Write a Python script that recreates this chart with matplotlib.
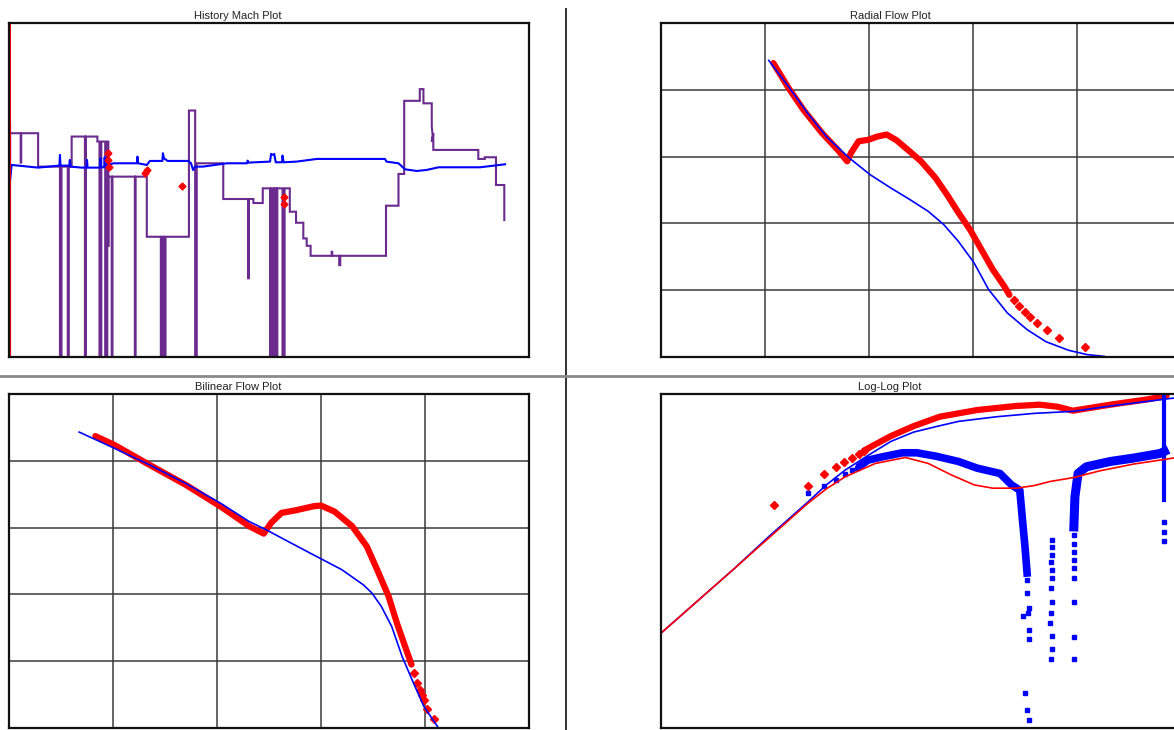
import matplotlib
matplotlib.use("Agg")
import matplotlib.pyplot as plt
from matplotlib.lines import Line2D

plt.rcParams['font.family'] = ['Liberation Sans', 'DejaVu Sans']

# ---------------- data ----------------
titles = ["History Mach Plot", "Radial Flow Plot", "Bilinear Flow Plot", "Log-Log Plot"]

# History match (time %, value %)
hist_edge = [(0.1, 101), (0.1, -1)]
hist_red = [(19.0, 61.0), (19.1, 59.0), (19.2, 57.0), (26.2, 55.2), (26.5, 56.0),
            (33.2, 51.3), (52.9, 48.0), (52.9, 45.8)]
hist_blue = [(0.2, 70.0), (0.2, 53.0), (0.5, 57.5), (5.6, 56.7), (9.7, 57.3), (9.8, 60.5),
             (9.9, 57.3), (11.6, 57.3), (11.7, 59.0), (11.8, 57.0), (14.0, 56.7), (14.9, 56.7),
             (15.0, 59.0), (15.1, 56.7), (17.5, 56.7), (17.6, 59.5), (17.7, 56.8), (18.3, 56.8),
             (18.4, 59.8), (18.5, 57.0), (19.0, 57.5), (20.1, 58.0), (24.6, 58.0), (24.7, 60.0),
             (24.8, 58.0), (26.5, 57.5), (27.1, 58.7), (29.5, 58.7), (29.6, 61.0), (29.8, 59.5),
             (30.5, 58.7), (34.5, 58.7), (35.0, 58.0), (35.4, 56.0), (35.8, 57.0), (37.3, 57.0),
             (41.9, 58.0), (45.8, 58.0), (45.9, 58.8), (46.0, 58.2), (50.2, 58.5), (50.4, 60.8),
             (50.8, 60.5), (51.0, 60.8), (51.3, 58.3), (52.5, 58.3), (52.6, 60.3), (52.8, 58.3),
             (55.3, 58.5), (59.2, 59.3), (72.3, 59.3), (72.6, 58.5), (74.9, 58.0), (76.15, 56.2),
             (78.4, 55.7), (80.3, 56.0), (82.6, 56.8), (90.6, 56.8), (95.4, 57.7)]
hist_purple = [(0.2, -5), (0.2, 67.0), (2.25, 67.0), (2.25, 58.2), (2.35, 58.2), (2.35, 67.0),
               (5.6, 67.0), (5.6, 57.0), (9.8, 57.0), (9.8, -5), (10.1, -5), (10.1, 57.0),
               (11.3, 57.0), (11.3, -5), (11.5, -5), (11.5, 57.0), (12.05, 57.0), (12.05, 66.0),
               (14.6, 66.0), (14.6, -5), (14.8, -5), (14.8, 66.0), (17.0, 66.0), (17.0, 64.5),
               (17.4, 64.5), (17.4, -5), (17.75, -5), (17.75, 64.5), (18.5, 64.5), (18.5, -5),
               (18.9, -5), (18.9, 64.5), (19.1, 64.5), (19.1, 33.0), (19.1, 54.0), (19.75, 54.0),
               (19.75, -5), (19.9, -5), (19.9, 54.0), (24.2, 54.0), (24.2, -5), (24.35, -5),
               (24.35, 54.0), (26.5, 54.0), (26.5, 36.0), (29.2, 36.0), (29.2, -5), (29.5, -5),
               (29.5, 36.0), (29.8, 36.0), (29.8, -5), (30.1, -5), (30.1, 36.0), (34.6, 36.0),
               (34.6, 73.8), (35.8, 73.8), (35.8, -5), (36.1, -5), (36.1, 58.0), (41.2, 58.0),
               (41.2, 47.3), (46.0, 47.3), (46.0, 23.55), (46.1, 23.55), (46.1, 47.3), (47.0, 47.3),
               (47.0, 46.1), (48.8, 46.1), (48.8, 50.5), (50.2, 50.5), (50.2, -5), (50.5, -5),
               (50.5, 50.5), (50.8, 50.5), (50.8, -5), (51.1, -5), (51.1, 50.5), (51.5, 50.5),
               (51.5, -5), (51.6, -5), (51.6, 50.5), (52.6, 50.5), (52.6, -5), (53.0, -5),
               (53.0, 50.5), (54.0, 50.5), (54.0, 43.5), (55.2, 43.5), (55.2, 40.2), (56.6, 40.2),
               (56.6, 35.5), (57.25, 35.5), (57.25, 33.3), (58.0, 33.3), (58.0, 30.3),
               (62.05, 30.3), (62.05, 31.5), (62.15, 31.5), (62.15, 30.3), (63.5, 30.3),
               (63.5, 27.5), (63.7, 27.5), (63.7, 30.3), (72.5, 30.3), (72.5, 45.3), (74.9, 45.3),
               (74.9, 54.8), (76.0, 54.8), (76.0, 76.7), (79.0, 76.7), (79.0, 80.2), (79.7, 80.2),
               (79.7, 75.95), (81.3, 75.95), (81.3, 69.0), (81.5, 66.0), (81.3, 64.5), (81.6, 67.0),
               (81.6, 62.0), (90.25, 62.0), (90.25, 59.3), (91.5, 59.3), (91.5, 59.8),
               (93.65, 59.8), (93.65, 51.5), (95.25, 51.5), (95.25, 41.0)]

# Radial flow plot
rad_red_x = [1.08, 1.225, 1.37, 1.55, 1.70, 1.79, 1.825, 1.90, 1.99, 2.08, 2.17, 2.26, 2.39,
             2.50, 2.64, 2.75, 2.86, 2.97, 3.08, 3.19, 3.30, 3.35]
rad_red_y = [4.40, 4.03, 3.70, 3.35, 3.10, 2.93, 3.05, 3.23, 3.25, 3.30, 3.33, 3.25, 3.08,
             2.93, 2.68, 2.43, 2.16, 1.91, 1.61, 1.31, 1.06, 0.93]
rad_tail_x = [3.39, 3.44, 3.50, 3.55, 3.62, 3.71, 3.83, 4.08]
rad_tail_y = [0.86, 0.77, 0.68, 0.60, 0.51, 0.41, 0.28, 0.145]
rad_blue_x = [1.036, 1.225, 1.41, 1.59, 1.81, 2.01, 2.21, 2.39, 2.57, 2.72, 2.86, 3.01, 3.15,
              3.33, 3.52, 3.70, 3.92, 4.10, 4.26]
rad_blue_y = [4.44, 4.05, 3.65, 3.30, 2.98, 2.73, 2.53, 2.36, 2.18, 1.98, 1.73, 1.41, 1.01,
              0.66, 0.41, 0.23, 0.10, 0.035, 0.01]

# Bilinear flow plot
bil_red_x = [0.83, 1.01, 1.35, 1.70, 2.04, 2.31, 2.45, 2.52, 2.62, 2.76, 2.93, 3.00, 3.13,
             3.30, 3.44, 3.54, 3.65, 3.73, 3.82, 3.87]
bil_red_y = [4.37, 4.24, 3.94, 3.64, 3.31, 3.02, 2.91, 3.07, 3.22, 3.26, 3.32, 3.33, 3.24,
             3.02, 2.72, 2.37, 1.97, 1.57, 1.17, 0.95]
bil_tail_x = [3.89, 3.92, 3.95, 3.97, 3.99, 4.02, 4.09]
bil_tail_y = [0.82, 0.67, 0.57, 0.50, 0.42, 0.28, 0.14]
bil_blue_x = [0.675, 1.01, 1.35, 1.70, 2.04, 2.31, 2.47, 2.65, 2.93, 3.20, 3.41, 3.49, 3.58,
              3.68, 3.78, 3.89, 3.99, 4.13]
bil_blue_y = [4.43, 4.19, 3.94, 3.66, 3.36, 3.09, 2.97, 2.82, 2.59, 2.37, 2.14, 2.02, 1.82,
              1.52, 1.07, 0.67, 0.32, 0.0]

# Log-Log plot (log10 units)
ll_dmod_x = [0, 0.35, 0.7, 1.04, 1.41, 1.59, 1.77, 2.06, 2.35, 2.57, 2.79, 3.01, 3.19, 3.42,
             3.59, 3.74, 3.97, 4.22, 4.54, 4.88, 5.0]
ll_dmod_y = [1.42, 1.90, 2.38, 2.85, 3.36, 3.58, 3.76, 3.96, 4.05, 3.96, 3.79, 3.64, 3.59,
             3.59, 3.63, 3.69, 3.75, 3.85, 3.95, 4.03, 4.06]
ll_pmod_x = [0, 0.35, 0.7, 1.04, 1.41, 1.59, 1.77, 1.99, 2.21, 2.43, 2.64, 2.86, 3.23, 3.59,
             3.96, 4.32, 4.68, 4.88, 5.0]
ll_pmod_y = [1.42, 1.90, 2.38, 2.87, 3.38, 3.64, 3.86, 4.08, 4.29, 4.43, 4.51, 4.59, 4.66,
             4.71, 4.74, 4.82, 4.89, 4.93, 4.95]
ll_p_sparse_x = [1.09, 1.41, 1.57, 1.68, 1.76, 1.84, 1.90, 1.95]
ll_p_sparse_y = [3.34, 3.63, 3.80, 3.90, 3.98, 4.04, 4.10, 4.15]
ll_p_x = [1.95, 2.03, 2.21, 2.43, 2.68, 3.04, 3.41, 3.64, 3.81, 3.96, 4.32, 4.68, 4.86]
ll_p_y = [4.15, 4.22, 4.37, 4.52, 4.66, 4.76, 4.82, 4.84, 4.81, 4.75, 4.84, 4.92, 4.97]
ll_d_sparse_x = [1.41, 1.57, 1.68, 1.77, 1.84, 1.88]
ll_d_sparse_y = [3.52, 3.62, 3.72, 3.80, 3.86, 3.89]
ll_d1_x = [1.92, 1.99, 2.13, 2.32, 2.46, 2.64, 2.86, 3.04, 3.26, 3.37, 3.45, 3.47, 3.50, 3.52]
ll_d1_y = [3.93, 4.01, 4.06, 4.12, 4.12, 4.07, 3.99, 3.89, 3.81, 3.64, 3.56, 3.21, 2.71, 2.32]
ll_d1_tail_x = [3.52, 3.52, 3.54, 3.53, 3.48, 3.54, 3.54, 3.50, 3.52, 3.54]
ll_d1_tail_y = [2.22, 2.02, 1.80, 1.72, 1.68, 1.46, 1.33, 0.53, 0.27, 0.12]
ll_d2_x = [3.76, 3.76, 3.76, 3.75, 3.76, 3.76, 3.75, 3.76, 3.75, 3.74, 3.76, 3.76, 3.75]
ll_d2_y = [2.82, 2.71, 2.59, 2.49, 2.37, 2.24, 2.09, 1.88, 1.72, 1.57, 1.37, 1.18, 1.04]
ll_d3_x = [3.97, 3.97, 3.97, 3.97, 3.97, 3.97, 3.97, 3.97, 3.97]
ll_d3_y = [1.03, 1.36, 1.88, 2.24, 2.39, 2.51, 2.64, 2.76, 2.89]
ll_d2band_x = [3.97, 3.98, 4.01, 4.09, 4.32, 4.54, 4.80, 4.84]
ll_d2band_y = [3.01, 3.46, 3.81, 3.91, 3.99, 4.04, 4.11, 4.14]
ll_spike_x = [4.84, 4.84]
ll_spike_y = [5.0, 3.41]
ll_spike_pts_x = [4.84, 4.84, 4.84]
ll_spike_pts_y = [3.09, 2.94, 2.80]

# ---------------- figure ----------------
W, H = 1174, 730
fig = plt.figure(figsize=(W / 100, H / 100), dpi=100)

RED = "#ff0000"
BLUE = "#0000ff"
PURPLE = "#6a2a8e"


def add_ax(left, top, width=520, height=334):
    ax = fig.add_axes([left / W, 1 - (top + height) / H, width / W, height / H])
    for s in ax.spines.values():
        s.set_linewidth(1.6)
        s.set_color("#111111")
    ax.tick_params(left=False, bottom=False, labelleft=False, labelbottom=False)
    return ax


def gridify(ax):
    ax.set_xlim(0, 5)
    ax.set_ylim(0, 5)
    ax.set_xticks([1, 2, 3, 4])
    ax.set_yticks([1, 2, 3, 4])
    ax.grid(True, color="#3a3a3a", linewidth=1.1)
    ax.set_axisbelow(True)


def unzip(pairs):
    return [p[0] for p in pairs], [p[1] for p in pairs]


# dividers
fig.add_artist(Line2D([566 / W, 566 / W], [0, 1 - 9 / H], color="#303030", lw=1.4,
                      transform=fig.transFigure))
fig.add_artist(Line2D([0, 1], [1 - 376 / H, 1 - 376 / H], color="#8a8a8a", lw=2.0,
                      transform=fig.transFigure))

# History match
ax1 = add_ax(9, 23)
ax1.set_xlim(0, 100)
ax1.set_ylim(0, 100)
ax1.set_xticks([])
ax1.set_yticks([])
ax1.plot(*unzip(hist_purple), color=PURPLE, lw=1.5, solid_joinstyle="miter")
ax1.plot(*unzip(hist_blue), color=BLUE, lw=1.5)
ax1.plot(*unzip(hist_edge), color=RED, lw=1.5)
ax1.plot(*unzip(hist_red), "D", color=RED, ms=3.5, mec=RED)

# Radial flow
ax2 = add_ax(661, 23)
gridify(ax2)
ax2.plot(rad_red_x, rad_red_y, color=RED, lw=4.5, solid_capstyle="round")
ax2.plot(rad_tail_x, rad_tail_y, "D", color=RED, ms=3.8, mec=RED)
ax2.plot(rad_blue_x, rad_blue_y, color=BLUE, lw=1.2)

# Bilinear flow
ax3 = add_ax(9, 394)
gridify(ax3)
ax3.plot(bil_red_x, bil_red_y, color=RED, lw=4.5, solid_capstyle="round")
ax3.plot(bil_tail_x, bil_tail_y, "D", color=RED, ms=3.8, mec=RED)
ax3.plot(bil_blue_x, bil_blue_y, color=BLUE, lw=1.2)

# Log-log
ax4 = add_ax(661, 394)
ax4.set_xlim(0, 5)
ax4.set_ylim(0, 5)
ax4.set_xticks([])
ax4.set_yticks([])
ax4.plot(ll_p_sparse_x, ll_p_sparse_y, "D", color=RED, ms=3.8, mec=RED)
ax4.plot(ll_p_x, ll_p_y, color=RED, lw=4.5, solid_capstyle="round")
ax4.plot(ll_d_sparse_x, ll_d_sparse_y, "s", color=BLUE, ms=3.5, mec=BLUE)
ax4.plot(ll_d1_x, ll_d1_y, color=BLUE, lw=5.5)
ax4.plot(ll_d1_tail_x, ll_d1_tail_y, "s", color=BLUE, ms=3.5, mec=BLUE)
ax4.plot(ll_d2_x, ll_d2_y, "s", color=BLUE, ms=3.5, mec=BLUE)
ax4.plot(ll_d3_x, ll_d3_y, "s", color=BLUE, ms=3.5, mec=BLUE)
ax4.plot(ll_d2band_x, ll_d2band_y, color=BLUE, lw=6.5)
ax4.plot(ll_spike_x, ll_spike_y, color=BLUE, lw=3)
ax4.plot(ll_spike_pts_x, ll_spike_pts_y, "s", color=BLUE, ms=3.5, mec=BLUE)
ax4.plot(ll_pmod_x, ll_pmod_y, color=BLUE, lw=1.2)
ax4.plot(ll_dmod_x, ll_dmod_y, color=RED, lw=1.2)

# titles
for (left, top), t in zip([(9, 16), (661, 16), (9, 387), (661, 387)], titles):
    fig.text((left + 229) / W, 1 - top / H, t, ha="center", va="center",
             fontsize=8, color="#222222")

fig.savefig("out.png", dpi=100)
